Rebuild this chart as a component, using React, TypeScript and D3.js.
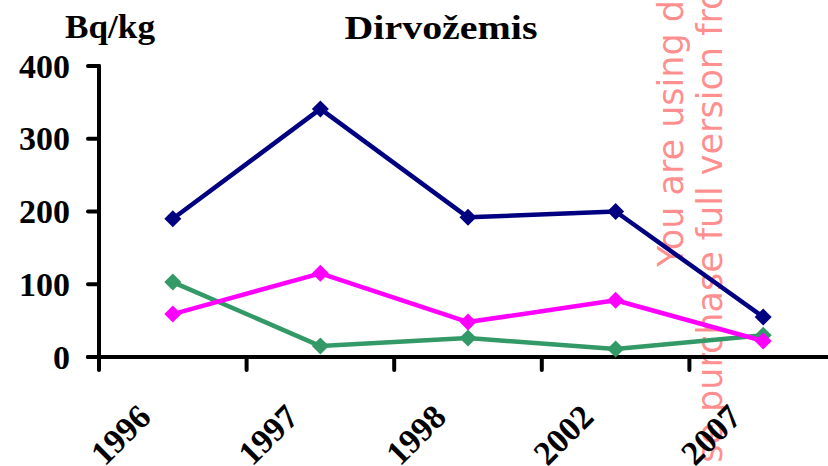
import React from "react";
import * as d3 from "d3";

const categories = ["1996", "1997", "1998", "2002", "2007"];
const navySeries = [190, 341, 192, 200, 55];
const greenSeries = [103, 15, 26, 11, 30];
const magentaSeries = [59, 115, 48, 78, 22];
const yTicks = [0, 100, 200, 300, 400];

const series = [
  { name: "navy", color: "#000080", values: navySeries },
  { name: "green", color: "#339966", values: greenSeries },
  { name: "magenta", color: "#FF00FF", values: magentaSeries },
];

const W = 828;
const H = 466;
const left = 99;
const step = 147.6;
const serif = "'Liberation Serif', 'Times New Roman', serif";

export default function App() {
  const x = d3
    .scaleBand<string>()
    .domain(categories)
    .range([left, left + step * categories.length])
    .padding(0);
  const y = d3.scaleLinear().domain([0, 400]).range([357, 66]);
  const cx = (c: string) => (x(c) as number) + x.bandwidth() / 2;

  const line = d3
    .line<number>()
    .x((_, i) => cx(categories[i]))
    .y((v) => y(v));

  const diamond = (px: number, py: number, r: number) => {
    const p = d3.path();
    p.moveTo(px, py - r);
    p.lineTo(px + r, py);
    p.lineTo(px, py + r);
    p.lineTo(px - r, py);
    p.closePath();
    return p.toString();
  };

  const boundaries = categories.map((c) => x(c) as number);

  return (
    <svg
      width={W}
      height={H}
      style={{ position: "absolute", left: 0, top: 0, background: "#fff" }}
    >
      <rect x={0} y={0} width={W} height={H} fill="#fff" />

      {/* watermark (behind) */}
      <g
        fill="rgb(255,0,0)"
        fillOpacity={0.45}
        fontFamily="'DejaVu Sans', sans-serif"
        fontSize={35}
      >
        <text transform="translate(683,267) rotate(-90)">
          You are using demo version
        </text>
        <text transform="translate(722,412) rotate(-90)">
          purchase full version from
        </text>
        <text transform="translate(722,423) rotate(-90)" textAnchor="end">
          Please
        </text>
      </g>

      {/* title */}
      <text
        x={441}
        y={39}
        textAnchor="middle"
        fontFamily={serif}
        fontWeight="bold"
        fontSize={34}
        textLength={193}
        lengthAdjust="spacingAndGlyphs"
      >
        Dirvožemis
      </text>
      <text
        x={110}
        y={38}
        textAnchor="middle"
        fontFamily={serif}
        fontWeight="bold"
        fontSize={33}
        textLength={90}
        lengthAdjust="spacingAndGlyphs"
      >
        Bq/kg
      </text>

      {/* axes */}
      <g stroke="#000" strokeWidth={4} strokeLinecap="round">
        <line x1={left} x2={left} y1={y(400)} y2={y(0)} />
        <line x1={88} x2={W + 20} y1={y(0)} y2={y(0)} />
        {yTicks.map((t) => (
          <line key={t} x1={88} x2={left} y1={y(t)} y2={y(t)} />
        ))}
        {boundaries.map((b, i) => (
          <line key={i} x1={b} x2={b} y1={y(0)} y2={370} />
        ))}
      </g>
      {yTicks.map((t) => (
        <text
          key={t}
          x={70}
          y={y(t) + 11.5}
          textAnchor="end"
          fontFamily={serif}
          fontWeight="bold"
          fontSize={34}
        >
          {t}
        </text>
      ))}
      {categories.map((c) => (
        <text
          key={c}
          transform={`translate(${cx(c) - 20},419) rotate(-45)`}
          textAnchor="end"
          fontFamily={serif}
          fontWeight="bold"
          fontSize={34}
        >
          {c}
        </text>
      ))}

      {/* series */}
      {series.map((s) => (
        <g key={s.name}>
          <path
            d={line(s.values) as string}
            fill="none"
            stroke={s.color}
            strokeWidth={4.5}
            strokeLinejoin="round"
          />
          {s.values.map((v, i) => (
            <path
              key={i}
              d={diamond(cx(categories[i]), y(v), 8.5)}
              fill={s.color}
            />
          ))}
        </g>
      ))}
    </svg>
  );
}
